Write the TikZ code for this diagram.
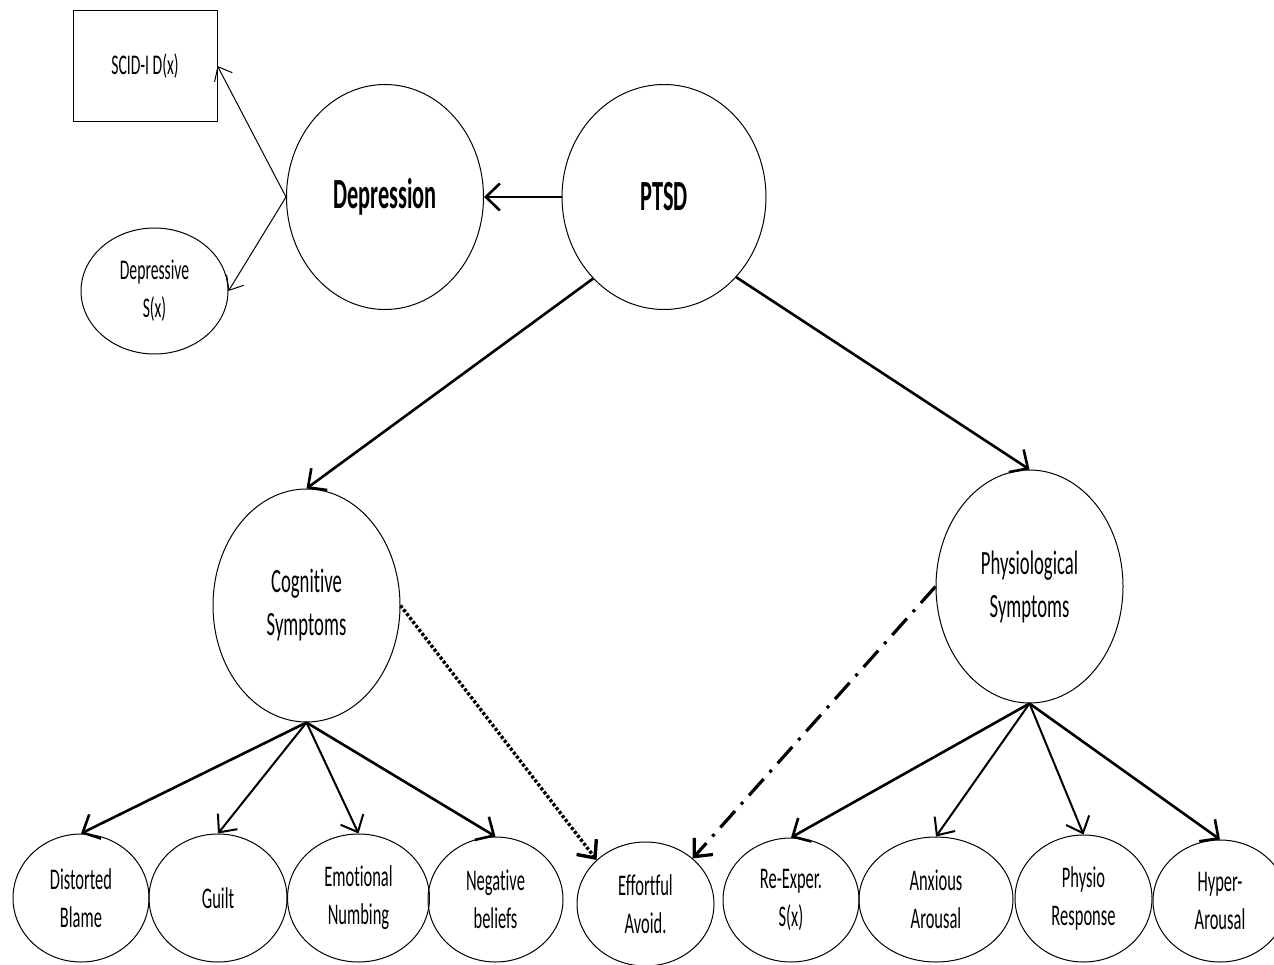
\documentclass[tikz,border=0pt]{standalone}
\usepackage{fontspec}
\setmainfont[FakeStretch=0.55,Ligatures=NoCommon,BoldFeatures={FakeStretch=0.52}]{Carlito}
\usetikzlibrary{shapes.geometric,arrows.meta}
\begin{document}
\begin{tikzpicture}[x=1pt,y=-1pt,
  every node/.style={inner sep=0pt, align=center},
  circ/.style={draw, ellipse, line width=1pt},
  bigtxt/.style={font=\fontsize{43}{50}\selectfont\bfseries},
  midtxt/.style={font=\fontsize{34}{43}\selectfont},
  smalltxt/.style={font=\fontsize{30}{38}\selectfont},
  tinytxt/.style={font=\fontsize{28.5}{38}\selectfont},
  thickarr/.style={line width=2.6pt, -{Straight Barb[length=14pt,width=27pt]}},
  medarr/.style={line width=2pt, -{Straight Barb[length=14pt,width=25pt]}},
  thinarr/.style={line width=1pt, -{Straight Barb[length=12pt,width=20pt]}},
  dotarr/.style={line width=3.4pt, dash pattern=on 3pt off 2pt, -{Straight Barb[length=14pt,width=25pt]}},
  dasharr/.style={line width=3.2pt, dash pattern=on 22pt off 9pt on 3pt off 9pt, -{Straight Barb[length=14pt,width=25pt]}},
]
\useasboundingbox (0,0) rectangle (1274,965);
\fill[white] (0,0) rectangle (1274,965);

\node[draw, line width=1pt, minimum width=144pt, minimum height=111pt, tinytxt] (scid) at (145,66) {SCID-I D(x)};
\node[circ, minimum width=147pt, minimum height=126pt, tinytxt] (dsx) at (154.5,291) {Depressive\\S(x)};
\node[circ, minimum width=197pt, minimum height=225pt, bigtxt] (dep) at (385,197) {Depression};
\node[circ, minimum width=204pt, minimum height=225pt, bigtxt] (ptsd) at (664,197) {PTSD};
\node[circ, minimum width=187pt, minimum height=233pt, midtxt] (cog) at (306.5,605.5) {Cognitive\\Symptoms};
\node[circ, minimum width=187pt, minimum height=233pt, midtxt] (phys) at (1029.5,586.5) {Physiological\\Symptoms};

\node[circ, minimum width=136pt, minimum height=128pt, smalltxt] (dist) at (81,898) {Distorted\\Blame};
\node[circ, minimum width=138pt, minimum height=128pt, smalltxt] (guilt) at (218,898) {Guilt};
\node[circ, minimum width=142pt, minimum height=128pt, smalltxt] (emo) at (358.5,898) {Emotional\\Numbing};
\node[circ, minimum width=135pt, minimum height=125pt, smalltxt] (neg) at (495.5,899.5) {Negative\\beliefs};
\node[circ, minimum width=137pt, minimum height=124pt, smalltxt] (eff) at (645.5,904) {Effortful\\Avoid.};
\node[circ, minimum width=136pt, minimum height=124pt, smalltxt] (reex) at (791,900) {Re-Exper.\\S(x)};
\node[circ, minimum width=154pt, minimum height=125pt, smalltxt] (anx) at (936,899.5) {Anxious\\Arousal};
\node[circ, minimum width=137pt, minimum height=127pt, smalltxt] (physr) at (1083.5,898.5) {Physio\\Response};
\node[circ, minimum width=134pt, minimum height=122pt, smalltxt] (hyper) at (1220,901) {Hyper-\\Arousal};

\draw[thickarr] (ptsd.west) -- (dep.east);
\draw[thinarr] (dep.west) -- (scid.east);
\draw[thinarr] (dep.west) -- (dsx.east);
\draw[thickarr] (ptsd.229) -- (cog.north);
\draw[thickarr] (ptsd.312) -- (phys.north);

\draw[thickarr] (cog.south) -- (dist.north);
\draw[medarr] (cog.south) -- (guilt.north);
\draw[medarr] (cog.south) -- (emo.north);
\draw[thickarr] (cog.south) -- (neg.north);

\draw[thickarr] (phys.south) -- (reex.north);
\draw[medarr] (phys.south) -- (anx.north);
\draw[medarr] (phys.south) -- (physr.north);
\draw[thickarr] (phys.south) -- (hyper.north);

\draw[dotarr] (cog.east) -- (eff.138);
\draw[dasharr] (phys.west) -- (eff.44);
\end{tikzpicture}
\end{document}
